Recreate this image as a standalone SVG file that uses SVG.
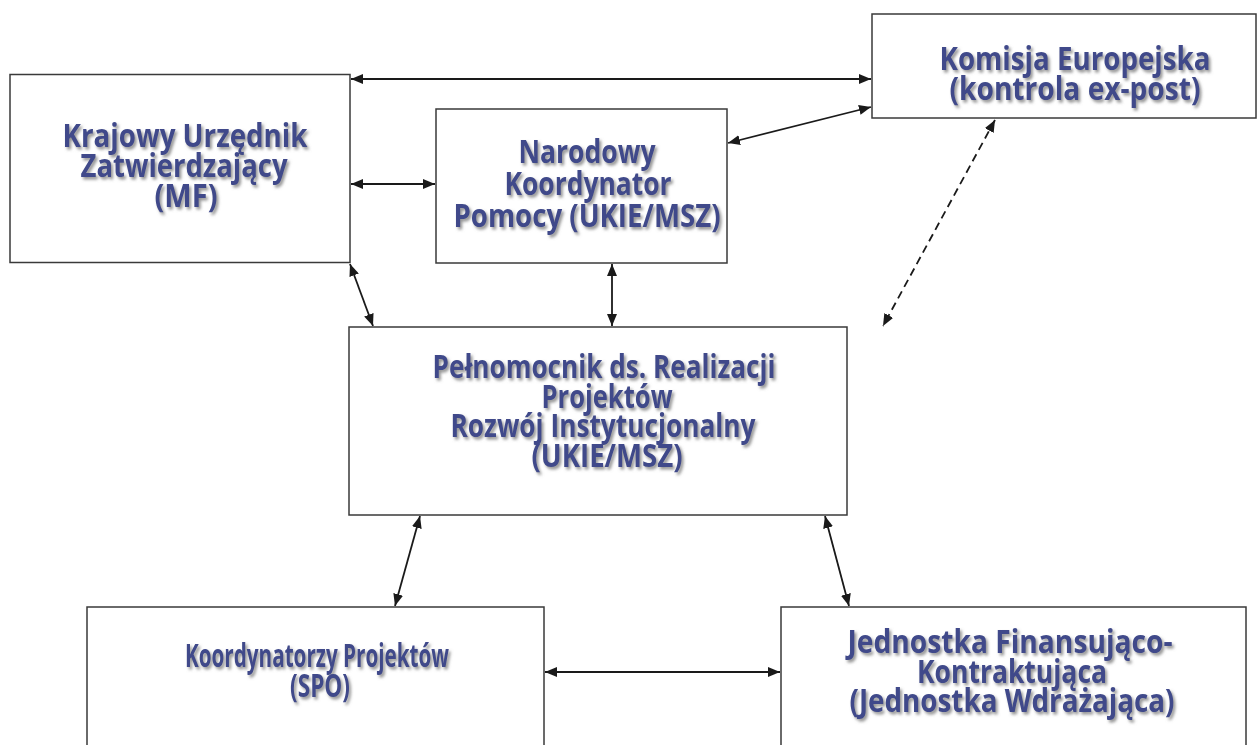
<svg xmlns="http://www.w3.org/2000/svg" width="1258" height="745" viewBox="0 0 1258 745">
<defs>
<style>
.box{fill:#fff;stroke:#3a3a3a;stroke-width:1.5}
.lbl{font-family:"Open Sans",Lato,"Liberation Sans",sans-serif;font-weight:bold;font-size:32px;fill:#3f4a8a;text-anchor:middle;filter:url(#sh)}
.con{fill:none;stroke:#1a1a1a;stroke-width:1.8;marker-start:url(#ah);marker-end:url(#ah)}
.dash{stroke-dasharray:8 5}
</style>
<filter id="sh" x="-10%" y="-50%" width="120%" height="200%">
<feDropShadow dx="2" dy="2.5" stdDeviation="1.4" flood-color="#777" flood-opacity="0.8"/>
</filter>
<marker id="ah" viewBox="0 0 12 10" refX="12" refY="5" markerWidth="12" markerHeight="10" markerUnits="userSpaceOnUse" orient="auto-start-reverse">
<path d="M0,0 L12,5 L0,10 z" fill="#1a1a1a"/>
</marker>
</defs>
<rect width="1258" height="745" fill="#fff"/>
<g id="connectors">
<line class="con" x1="351" y1="79" x2="871" y2="79"/>
<line class="con" x1="351" y1="184" x2="435" y2="184"/>
<line class="con" x1="728" y1="143" x2="871" y2="107"/>
<line class="con" x1="350" y1="264" x2="373" y2="326"/>
<line class="con" x1="612" y1="264" x2="612" y2="326"/>
<line class="con dash" x1="995" y1="120" x2="883" y2="326"/>
<line class="con" x1="420" y1="516" x2="395" y2="606"/>
<line class="con" x1="825" y1="516" x2="849" y2="606"/>
<line class="con" x1="545" y1="672" x2="780" y2="672"/>
</g>
<g id="kuz">
<rect class="box" x="10" y="74.5" width="340" height="188"/>
<text class="lbl" x="185" y="147" textLength="245" lengthAdjust="spacingAndGlyphs">Krajowy Urzędnik</text>
<text class="lbl" x="184" y="177" textLength="207" lengthAdjust="spacingAndGlyphs">Zatwierdzający</text>
<text class="lbl" x="186" y="207" textLength="63" lengthAdjust="spacingAndGlyphs">(MF)</text>
</g>
<g id="nkp">
<rect class="box" x="436" y="109" width="291" height="154"/>
<text class="lbl" x="587" y="163" textLength="137" lengthAdjust="spacingAndGlyphs">Narodowy</text>
<text class="lbl" x="588" y="195" textLength="167" lengthAdjust="spacingAndGlyphs">Koordynator</text>
<text class="lbl" x="587" y="227" textLength="267" lengthAdjust="spacingAndGlyphs">Pomocy (UKIE/MSZ)</text>
</g>
<g id="ke">
<rect class="box" x="872" y="14" width="384" height="104"/>
<text class="lbl" x="1075" y="70" textLength="271" lengthAdjust="spacingAndGlyphs">Komisja Europejska</text>
<text class="lbl" x="1075" y="100" textLength="251" lengthAdjust="spacingAndGlyphs">(kontrola ex-post)</text>
</g>
<g id="pelnomocnik">
<rect class="box" x="349" y="327" width="498" height="188"/>
<text class="lbl" x="604" y="378" textLength="343" lengthAdjust="spacingAndGlyphs">Pełnomocnik ds. Realizacji</text>
<text class="lbl" x="607" y="408" textLength="131" lengthAdjust="spacingAndGlyphs">Projektów</text>
<text class="lbl" x="603" y="437" textLength="305" lengthAdjust="spacingAndGlyphs">Rozwój Instytucjonalny</text>
<text class="lbl" x="607" y="467" textLength="151" lengthAdjust="spacingAndGlyphs">(UKIE/MSZ)</text>
</g>
<g id="koordynatorzy">
<rect class="box" x="87" y="607" width="457" height="145"/>
<text class="lbl" x="317" y="667" textLength="264" lengthAdjust="spacingAndGlyphs">Koordynatorzy Projektów</text>
<text class="lbl" x="320" y="697" textLength="60" lengthAdjust="spacingAndGlyphs">(SPO)</text>
</g>
<g id="jfk">
<rect class="box" x="781" y="607" width="465" height="145"/>
<text class="lbl" x="1010" y="653" textLength="325" lengthAdjust="spacingAndGlyphs">Jednostka Finansująco-</text>
<text class="lbl" x="1012" y="683" textLength="190" lengthAdjust="spacingAndGlyphs">Kontraktująca</text>
<text class="lbl" x="1012" y="712" textLength="325" lengthAdjust="spacingAndGlyphs">(Jednostka Wdrażająca)</text>
</g>
</svg>
